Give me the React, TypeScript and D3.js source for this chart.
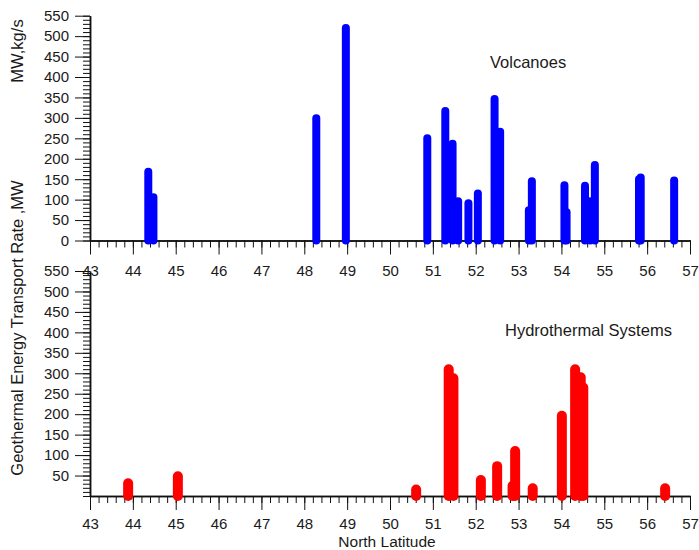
import React, { useEffect, useRef } from 'react';
import * as d3 from 'd3';

// Volcanoes: latitude (deg N) and rate (MW, kg/s)
const volcanoLat = [44.36, 44.48, 48.28, 48.97, 50.87, 51.29, 51.46, 51.59, 51.83, 52.05, 52.44, 52.57, 53.24, 53.31, 54.07, 54.12, 54.55, 54.67, 54.78, 55.81, 55.85, 56.63];
const volcanoVal = [168, 106, 299, 520, 250, 317, 237, 96, 91, 115, 346, 266, 74, 145, 135, 69, 134, 96, 185, 150, 154, 147];

// Hydrothermal systems: latitude and rate (MW)
const hydroLat = [43.89, 45.05, 50.61, 51.37, 51.48, 52.12, 52.5, 52.86, 52.92, 53.33, 54.01, 54.32, 54.45, 54.51, 56.42];
const hydroVal = [31, 48, 16, 310, 288, 39, 73, 25, 110, 19, 196, 310, 290, 265, 19];

const latTicks = d3.range(43, 58, 1);
const topYTicks = d3.range(0, 551, 50);
const botYTicks = d3.range(50, 551, 50);

const FONT = 'Liberation Sans, Arial, sans-serif';

const App = () => {
  const ref = useRef<SVGSVGElement>(null);

  useEffect(() => {
    const svg = d3.select(ref.current);
    svg.selectAll('*').remove();

    const x = d3.scaleLinear().domain([43, 57]).range([90, 690]);
    const yTop = d3.scaleLinear().domain([0, 550]).range([240.5, 15.7]);
    const yBot = d3.scaleLinear().domain([0, 550]).range([496, 271]);

    const minorX = d3.range(43, 57.001, 0.2);
    const minorY = d3.range(0, 551, 10);

    const panel = (
      y: d3.ScaleLinear<number, number>,
      yTicks: number[],
      lats: number[],
      vals: number[],
      color: string,
      width: number,
      pad: number
    ) => {
      const g = svg.append('g');
      const x0 = y(0);

      // minor ticks
      g.append('g')
        .attr('transform', `translate(0,${x0})`)
        .call(d3.axisBottom(x).tickValues(minorX).tickSize(7).tickSizeOuter(0).tickFormat(() => ''));
      g.append('g')
        .attr('transform', 'translate(90,0)')
        .call(d3.axisLeft(y).tickValues(minorY).tickSize(7).tickSizeOuter(0).tickFormat(() => ''));

      // major ticks with labels
      g.append('g')
        .attr('transform', `translate(0,${x0})`)
        .call(d3.axisBottom(x).tickValues(latTicks).tickSize(14).tickSizeOuter(0).tickPadding(pad).tickFormat(d3.format('d')));
      g.append('g')
        .attr('transform', 'translate(90,0)')
        .call(d3.axisLeft(y).tickValues(yTicks).tickSize(15).tickSizeOuter(0).tickPadding(6).tickFormat(d3.format('d')));

      g.selectAll('.domain').attr('stroke', '#111').attr('stroke-width', 1.5);
      g.selectAll('.tick line').attr('stroke', '#111').attr('stroke-width', 1);
      g.selectAll('.tick text').attr('fill', '#1a1a1a').style('font-family', FONT).style('font-size', '15px');

      // bars
      g.append('g')
        .selectAll('line')
        .data(lats.map((lat, i) => ({ lat, v: vals[i] })))
        .enter()
        .append('line')
        .attr('x1', (d) => x(d.lat))
        .attr('x2', (d) => x(d.lat))
        .attr('y1', x0)
        .attr('y2', (d) => y(d.v))
        .attr('stroke', color)
        .attr('stroke-width', width)
        .attr('stroke-linecap', 'round');
    };

    panel(yTop, topYTicks, volcanoLat, volcanoVal, '#0000ff', 8, 11);
    panel(yBot, botYTicks, hydroLat, hydroVal, '#ff0000', 10, 8);

    const text = (t: string, px: number, py: number, anchor = 'start', rotate = false, size = 16.5) => {
      svg.append('text')
        .attr('transform', rotate ? `translate(${px},${py}) rotate(-90)` : `translate(${px},${py})`)
        .attr('text-anchor', anchor)
        .attr('fill', '#1a1a1a')
        .style('font-family', FONT)
        .style('font-size', `${size}px`)
        .text(t);
    };

    text('Volcanoes', 490, 68);
    text('Hydrothermal Systems', 505, 336);
    text('North Latitude', 387, 546.5, 'middle', false, 15.5);
    text('MW,kg/s', 23, 51, 'middle', true);
    text('Geothermal Energy Transport Rate ,MW', 23, 328, 'middle', true);

    return () => {
      svg.selectAll('*').remove();
    };
  }, []);

  return (
    <div style={{ position: 'absolute', left: 0, top: 0 }}>
      <svg ref={ref} width={699} height={550} style={{ display: 'block', background: '#fff' }} />
    </div>
  );
};

export default App;
